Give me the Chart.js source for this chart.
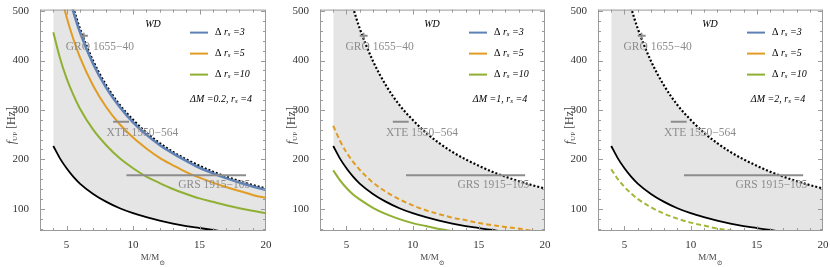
<!DOCTYPE html>
<html><head><meta charset="utf-8">
<script src="https://cdn.jsdelivr.net/npm/chart.js@4.4.0/dist/chart.umd.min.js"></script>
<style>
html,body{margin:0;padding:0;background:#fff;width:830px;height:267px;overflow:hidden}
canvas{position:absolute;top:0}
</style></head>
<body>
<canvas id="c1" width="277" height="267" style="left:0px"></canvas>
<canvas id="c2" width="277" height="267" style="left:280px"></canvas>
<canvas id="c3" width="272" height="267" style="left:558px"></canvas>
<script>
// ---------- data ----------
const M_GRID   = [4, 4.5, 5, 5.5, 6, 7, 8, 9, 10, 11, 12, 13, 14, 15, 16, 17, 18, 19, 20];
const F_DOTTED = [698, 620, 558, 507, 465, 399, 349, 310, 280, 254, 233, 215, 200, 187, 175, 165, 156, 148, 141];
const F_BLACK  = [227, 202, 182, 165, 151, 130, 114, 101, 91, 83, 76, 70, 65, 61, 57, 53, 50, 48, 45];
const F_BLUE_1 = [688, 611, 550, 500, 458, 393, 344, 306, 275, 250, 229, 212, 197, 183, 172, 162, 153, 145, 138];
const F_ORANGE_1 = [610, 542, 488, 444, 407, 349, 305, 271, 244, 222, 203, 188, 174, 163, 153, 144, 136, 128, 122];
const F_GREEN_1  = [457, 405, 364, 331, 303, 260, 228, 202, 182, 165, 152, 140, 130, 121, 114, 107, 101, 96, 91];
const F_ORANGE_2 = [268, 238, 214, 195, 179, 153, 134, 119, 107, 97, 89, 82, 77, 71, 67, 63, 60, 56, 54];
const F_GREEN_2  = [178, 158, 142, 129, 119, 102, 89, 79, 71, 65, 59, 55, 51, 47, 45, 42, 40, 37, 36];
const F_GREEN_3  = [180, 160, 144, 131, 120, 103, 90, 80, 72, 66, 60, 56, 52, 48, 45, 42, 40, 38, 36];

const SOURCE_NAMES = ['GRO 1655\u221240', 'XTE 1550\u2212564', 'GRS 1915\u2212105'];
const SOURCE_M_LOW  = [6.0, 8.5, 9.5];
const SOURCE_M_HIGH = [6.6, 9.7, 18.5];
const SOURCE_M_MID  = [6.3, 9.1, 14.0];
const SOURCE_F      = [450, 276, 168];
const SOURCE_F_ERR  = [6, 0, 0];

const X_TICKS = [5, 10, 15, 20];
const Y_TICKS = [100, 200, 300, 400, 500];
const X_MINOR = [3,4,6,7,8,9,11,12,13,14,16,17,18,19];
const Y_MINOR = [60,80,120,140,160,180,220,240,260,280,320,340,360,380,420,440,460,480];

const LEGEND_LABELS = ['3', '5', '10'];
const PANEL_DM = ['0.2', '1', '2'];
const PANEL_RS = '4';

const BLUE = '#5e81b5', ORANGE = '#e19c24', GREEN = '#8fb032';
const SERIF = '"Liberation Serif", "DejaVu Serif", serif';

// ---------- helpers ----------
function pts(ys){ return M_GRID.map((m,i)=>({x:m, y:ys[i]})); }

function drawRich(ctx, parts, x, y, align){
  let w = 0;
  parts.forEach(p=>{ ctx.font = (p.it?'italic ':'') + p.s + 'px ' + SERIF; p.w = ctx.measureText(p.t).width; w += p.w; });
  let cx = align==='center' ? x - w/2 : (align==='right' ? x - w : x);
  parts.forEach(p=>{
    ctx.font = (p.it?'italic ':'') + p.s + 'px ' + SERIF;
    ctx.fillText(p.t, cx, y + (p.dy||0));
    cx += p.w;
  });
}

const decorPlugin = {
  id: 'decor',
  afterDatasetsDraw(chart){
    const {ctx, chartArea:a, scales:{x, y}} = chart;
    const o = chart.options.plugins.decor;
    ctx.save();
    ctx.fillStyle = '#8c8c8c';
    ctx.textBaseline = 'middle';
    ctx.font = '11.5px ' + SERIF;
    ctx.textAlign = 'center';
    o.labelPos.forEach((lp,i)=>{
      ctx.fillText(SOURCE_NAMES[i], x.getPixelForValue(lp[0]), y.getPixelForValue(lp[1]));
    });
    ctx.textAlign = 'left';
    ctx.fillStyle = '#000';
    drawRich(ctx, [{t:'WD', it:true, s:10}], a.right-113, a.top+15, 'center');
    const cols = [BLUE, ORANGE, GREEN];
    const rows = [23, 44, 65];
    rows.forEach((ry,i)=>{
      ctx.strokeStyle = cols[i]; ctx.lineWidth = 2;
      ctx.beginPath(); ctx.moveTo(a.right-76, a.top+ry); ctx.lineTo(a.right-58, a.top+ry); ctx.stroke();
      drawRich(ctx, [{t:'\u0394 ', s:10},{t:'r', it:true, s:10},{t:'s', it:true, s:7, dy:2},{t:' =' + LEGEND_LABELS[i], it:true, s:10}], a.right-51, a.top+ry, 'left');
    });
    drawRich(ctx, [{t:'\u0394M =' + o.dm + ', ', it:true, s:10},{t:'r', it:true, s:10},{t:'s', it:true, s:7, dy:2},{t:' =' + PANEL_RS, it:true, s:10}], a.right-45, a.top+90, 'center');
    ctx.restore();
  },
  afterDraw(chart){
    const {ctx, chartArea:a, scales:{x, y}} = chart;
    ctx.save();
    ctx.strokeStyle = '#9a9a9a'; ctx.lineWidth = 1;
    ctx.strokeRect(a.left+0.5, a.top+0.5, a.right-a.left-1, a.bottom-a.top-1);
    ctx.beginPath();
    const tick = (vals, len)=>{
      vals.forEach(v=>{
        const px = Math.round(x.getPixelForValue(v))+0.5;
        if (px < a.left || px > a.right) return;
        ctx.moveTo(px, a.bottom); ctx.lineTo(px, a.bottom-len);
        ctx.moveTo(px, a.top); ctx.lineTo(px, a.top+len);
      });
    };
    const ticky = (vals, len)=>{
      vals.forEach(v=>{
        const py = Math.round(y.getPixelForValue(v))+0.5;
        ctx.moveTo(a.left, py); ctx.lineTo(a.left+len, py);
        ctx.moveTo(a.right, py); ctx.lineTo(a.right-len, py);
      });
    };
    tick(X_TICKS, 5); tick(X_MINOR, 3); ticky(Y_TICKS, 5); ticky(Y_MINOR, 3);
    ctx.stroke();
    ctx.fillStyle = '#444';
    ctx.textBaseline = 'middle';
    drawRich(ctx, [{t:'M/M', s:9},{t:'\u2299', s:7, dy:5}], (a.left+a.right)/2, 258, 'center');
    ctx.save();
    ctx.translate(12, a.top + 116);
    ctx.rotate(-Math.PI/2);
    drawRich(ctx, [{t:'f', it:true, s:12},{t:'UP', s:7, dy:3},{t:' [Hz]', s:12}], 0, 0, 'center');
    ctx.restore();
    ctx.restore();
  }
};

function sourceDatasets(){
  const ds = [];
  SOURCE_F.forEach((f,i)=>{
    ds.push({data:[{x:SOURCE_M_LOW[i], y:f},{x:SOURCE_M_HIGH[i], y:f}], borderColor:'#8c8c8c', borderWidth:2, pointRadius:0, fill:false, order:1});
    if (SOURCE_F_ERR[i] > 0){
      ds.push({data:[{x:SOURCE_M_MID[i], y:f-SOURCE_F_ERR[i]},{x:SOURCE_M_MID[i], y:f+SOURCE_F_ERR[i]}], borderColor:'#8c8c8c', borderWidth:1.5, pointRadius:0, fill:false, order:1});
    }
  });
  return ds;
}

function curve(ys, color, width, dash){
  return {data: pts(ys), borderColor: color, borderWidth: width, borderDash: dash||[], pointRadius:0, fill:false, cubicInterpolationMode:'monotone', order:10};
}

function makeChart(id, rightPad, curves, dm, labelPos){
  const datasets = [
    {data: pts(F_DOTTED), borderWidth:0, borderColor:'rgba(0,0,0,0)', backgroundColor:'#e5e5e5', pointRadius:0, fill:'+1', cubicInterpolationMode:'monotone', order:100},
    {data: pts(F_BLACK), borderWidth:0, borderColor:'rgba(0,0,0,0)', pointRadius:0, fill:false, cubicInterpolationMode:'monotone', order:100},
    ...curves,
    curve(F_BLACK, '#000', 1.8),
    curve(F_DOTTED, '#000', 2.2, [2,2]),
    ...sourceDatasets()
  ];
  return new Chart(document.getElementById(id), {
    type:'line',
    data:{datasets},
    options:{
      responsive:false, animation:false, devicePixelRatio:1,
      layout:{padding:{top:7, right:rightPad, left:0, bottom:0}},
      plugins:{legend:{display:false}, tooltip:{enabled:false}, decor:{dm, labelPos}},
      scales:{
        x:{type:'linear', min:3, max:20,
           afterBuildTicks:s=>{ s.ticks = X_TICKS.map(v=>({value:v})); },
           afterFit:s=>{ s.height = 36; },
           grid:{display:false}, border:{display:false},
           ticks:{font:{family:SERIF, size:11}, color:'#333', padding:0, maxRotation:0}},
        y:{type:'linear', min:55, max:503,
           afterBuildTicks:s=>{ s.ticks = Y_TICKS.map(v=>({value:v})); },
           afterFit:s=>{ s.width = 40; },
           grid:{display:false}, border:{display:false},
           ticks:{font:{family:SERIF, size:11}, color:'#333', padding:3}}
      }
    },
    plugins:[decorPlugin]
  });
}

const LABELS_1 = [[7.5, 427], [10.7, 253], [16.1, 148]];

makeChart('c1', 11, [
  curve(F_GREEN_1, GREEN, 2),
  curve(F_ORANGE_1, ORANGE, 2),
  curve(F_BLUE_1, BLUE, 2.6)
], PANEL_DM[0], LABELS_1);

makeChart('c2', 12, [
  curve(F_GREEN_2, GREEN, 2),
  curve(F_ORANGE_2, ORANGE, 2, [5,3])
], PANEL_DM[1], LABELS_1);

makeChart('c3', 7, [
  curve(F_GREEN_3, '#a0b83a', 2, [5,3])
], PANEL_DM[2], LABELS_1);
</script>
</body></html>
